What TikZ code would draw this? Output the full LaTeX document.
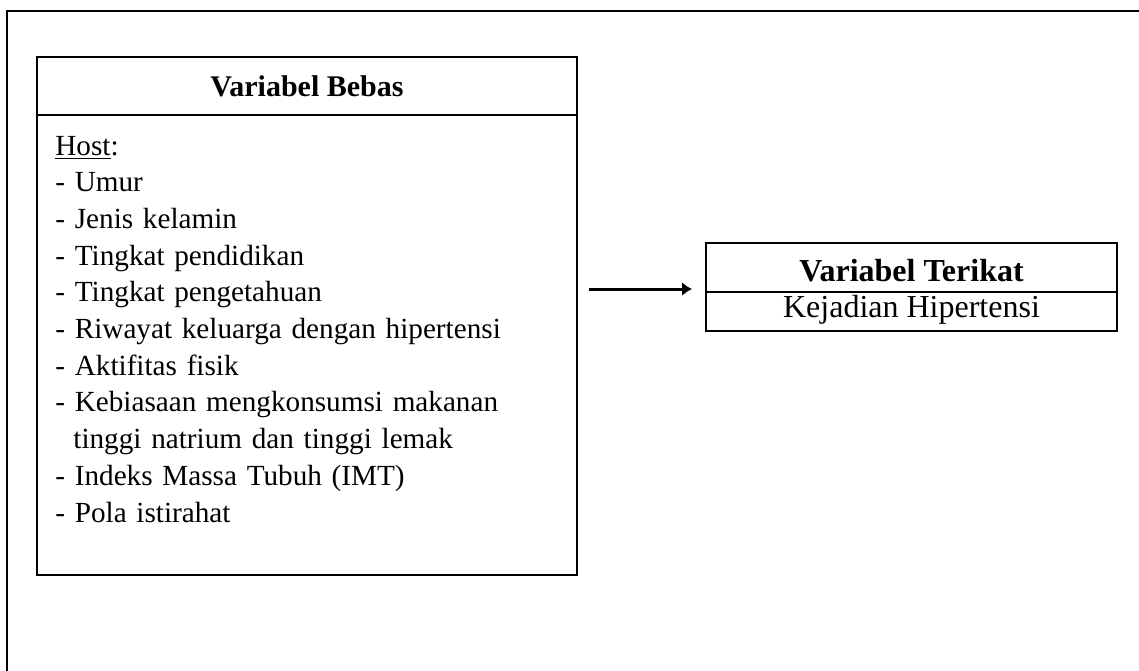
\documentclass[tikz,border=0pt]{standalone}
\usepackage{fontspec}
\setmainfont{Liberation Serif}
\usetikzlibrary{positioning,arrows.meta}
\begin{document}
\begin{tikzpicture}[x=.5pt,y=-.5pt]
	\tikzstyle{frame}=[line width=1pt]
	\tikzstyle{headbox}=[rectangle,draw,line width=1.1pt,inner sep=0pt,outer sep=0pt,font=\fontsize{15pt}{18.35pt}\selectfont\bfseries]
	\tikzstyle{bodybox}=[rectangle,draw,line width=1.1pt,inner sep=0pt,outer sep=0pt,font=\fontsize{15pt}{18.35pt}\selectfont]
	\tikzstyle{listtext}=[inner sep=0pt,align=left,text width=250pt,font=\fontsize{14.6pt}{18.35pt}\selectfont]
	\tikzstyle{linkarrow}=[-{Latex[length=5pt,width=7pt]},line width=1.5pt]
	
	\useasboundingbox (0,0) rectangle (1139,670);
	\clip (0,0) rectangle (1139,670);
	\draw[frame] (7,11) rectangle (1200,720);
	
	% variabel bebas
	\node[headbox,minimum width=270pt,minimum height=29pt,text height=10pt,text depth=0pt,anchor=north west] (bebasHead) at (37,57) {Variabel Bebas};
	\node[bodybox,minimum width=270pt,minimum height=230pt,below=0pt of bebasHead] (bebasBody) {};
	\node[listtext,anchor=north west] (hostList) at (55,135.5) {\underline{Host}:\\
		- Umur\\
		- Jenis kelamin\\
		- Tingkat pendidikan\\
		- Tingkat pengetahuan\\
		- Riwayat keluarga dengan hipertensi\\
		- Aktifitas fisik\\
		- Kebiasaan mengkonsumsi makanan\\
		\hspace*{9pt}tinggi natrium dan tinggi lemak\\
		- Indeks Massa Tubuh (IMT)\\
		- Pola istirahat};
	
	% variabel terikat
	\node[headbox,minimum width=205.5pt,minimum height=24.5pt,text height=14.2pt,text depth=0pt,anchor=north west,font=\fontsize{16pt}{19pt}\selectfont\bfseries] (terikatHead) at (706,243) {Variabel Terikat};
	\node[bodybox,minimum width=205.5pt,minimum height=19.5pt,text height=10pt,text depth=3.6pt,below=0pt of terikatHead,font=\fontsize{16pt}{19pt}\selectfont] (terikatBody) {Kejadian Hipertensi};
	
	\coordinate (arrowStart) at (bebasBody.east |- terikatHead.south);
	\draw[linkarrow,shorten <=6pt,shorten >=7pt] ([yshift=1.5pt]arrowStart) -- ([yshift=1.5pt]terikatHead.south west);
\end{tikzpicture}
\end{document}
